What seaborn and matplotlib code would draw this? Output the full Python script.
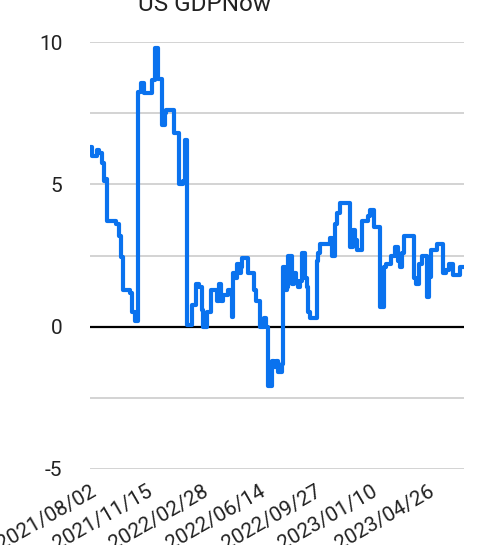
import matplotlib
matplotlib.use("Agg")
import matplotlib.pyplot as plt
import seaborn as sns
import pandas as pd

title = "US GDPNow"
dates = [
    "2021-08-02", "2021-08-06", "2021-08-15", "2021-08-19", "2021-08-24", "2021-08-28",
    "2021-09-01", "2021-09-03", "2021-09-20", "2021-09-25", "2021-09-29", "2021-10-03",
    "2021-10-16", "2021-10-20", "2021-10-25", "2021-10-31", "2021-11-06", "2021-11-11",
    "2021-11-26", "2021-12-02", "2021-12-07", "2021-12-15", "2021-12-20", "2021-12-22",
    "2022-01-06", "2022-01-16", "2022-01-23", "2022-01-27", "2022-01-31", "2022-02-09",
    "2022-02-16", "2022-02-22", "2022-02-28", "2022-03-02", "2022-03-09", "2022-03-17",
    "2022-03-28", "2022-04-01", "2022-04-04", "2022-04-08", "2022-04-17", "2022-04-25",
    "2022-04-27", "2022-04-30", "2022-05-04", "2022-05-08", "2022-05-12", "2022-05-14",
    "2022-05-25", "2022-06-05", "2022-06-09", "2022-06-16", "2022-06-24", "2022-06-28",
    "2022-07-01", "2022-07-09", "2022-07-13", "2022-07-16", "2022-07-20", "2022-07-28",
    "2022-07-30", "2022-08-02", "2022-08-06", "2022-08-08", "2022-08-15", "2022-08-19",
    "2022-08-23", "2022-08-27", "2022-08-30", "2022-09-03", "2022-09-09", "2022-09-12",
    "2022-09-14", "2022-09-18", "2022-10-01", "2022-10-03", "2022-10-07", "2022-10-25",
    "2022-10-29", "2022-11-04", "2022-11-08", "2022-11-13", "2022-12-02", "2022-12-07",
    "2022-12-11", "2022-12-15", "2022-12-24", "2023-01-04", "2023-01-08", "2023-01-16",
    "2023-01-27", "2023-02-04", "2023-02-07", "2023-02-17", "2023-02-24", "2023-03-02",
    "2023-03-06", "2023-03-09", "2023-03-13", "2023-04-01", "2023-04-04", "2023-04-10",
    "2023-04-16", "2023-04-25", "2023-04-29", "2023-05-03", "2023-05-14", "2023-05-25",
    "2023-05-31", "2023-06-05", "2023-06-13", "2023-06-26", "2023-07-03",
]
gdpnow = [
    6.3, 6.0, 6.2, 6.1, 5.75, 5.1,
    5.2, 3.7, 3.6, 3.2, 2.45, 1.3,
    1.2, 0.5, 0.2, 8.25, 8.55, 8.2,
    8.65, 9.8, 8.7, 7.1, 7.5, 7.6,
    6.8, 5.0, 5.1, 6.55, 0.07, 0.75,
    1.5, 1.4, 0.6, 0.0, 0.5, 1.3,
    0.9, 1.5, 0.9, 1.1, 1.3, 0.35,
    1.9, 1.7, 2.2, 1.9, 2.1, 2.4,
    1.9, 1.3, 0.9, 0.0, 0.3, 0.0,
    -2.1, -1.2, -1.4, -1.2, -1.6, -1.3,
    2.1, 1.3, 1.4, 2.5, 1.5, 1.9,
    1.6, 1.4, 1.6, 2.6, 1.7, 1.4,
    0.5, 0.3, 2.3, 2.6, 2.9, 3.1,
    2.5, 3.6, 4.0, 4.35, 2.8, 3.4,
    3.05, 2.7, 3.7, 3.9, 4.1, 3.5,
    0.7, 2.1, 2.2, 2.5, 2.8, 2.3,
    2.1, 2.6, 3.2, 1.7, 1.5, 2.2,
    2.5, 1.05, 1.75, 2.7, 2.9, 1.9,
    2.0, 2.2, 1.8, 2.1, 2.1,
]
tick_dates = ["2021-08-02", "2021-11-15", "2022-02-28", "2022-06-14",
              "2022-09-27", "2023-01-10", "2023-04-26"]
y_ticks = [-5, 0, 5, 10]
y_grid = [-5, -2.5, 0, 2.5, 5, 7.5, 10]

sns.set_theme(style="white")
plt.rcParams["font.family"] = ["Roboto", "DejaVu Sans"]

df = pd.DataFrame({"date": pd.to_datetime(dates), "value": gdpnow})

fig = plt.figure(figsize=(4.96, 5.45), dpi=100)
ax = fig.add_axes([90 / 496, 1 - 469 / 545, (464 - 90) / 496, (469 - 42) / 545])

for g in y_grid:
    if g == 0:
        continue
    ax.axhline(g, color="#cccccc", linewidth=1.2, zorder=0)
ax.axhline(0, color="black", linewidth=1.6, zorder=1)

sns.lineplot(data=df, x="date", y="value", drawstyle="steps-post",
             color="#0a72ee", linewidth=3, ax=ax, zorder=3)

ax.set_xlim(pd.Timestamp(dates[0]), pd.Timestamp(dates[-1]))
ax.set_ylim(-5, 10)
ax.set_yticks(y_ticks)
ax.set_yticklabels([str(t) for t in y_ticks], fontsize=15, color="#222222")
td = pd.to_datetime(tick_dates)
ax.set_xticks(td)
ax.set_xticklabels([d.strftime("%Y/%m/%d") for d in td], fontsize=15,
                   rotation=30, ha="right", va="top", rotation_mode="anchor",
                   color="#222222")
ax.tick_params(axis="y", length=0, pad=20)
ax.tick_params(axis="x", length=0, pad=9)
ax.set_xlabel("")
ax.set_ylabel("")
for s in ax.spines.values():
    s.set_visible(False)
ax.grid(False)

fig.text(205 / 496, 1 - 11 / 545, title, ha="center", va="baseline",
         fontsize=17.5, color="#222222")

fig.savefig("out.png", dpi=100)
